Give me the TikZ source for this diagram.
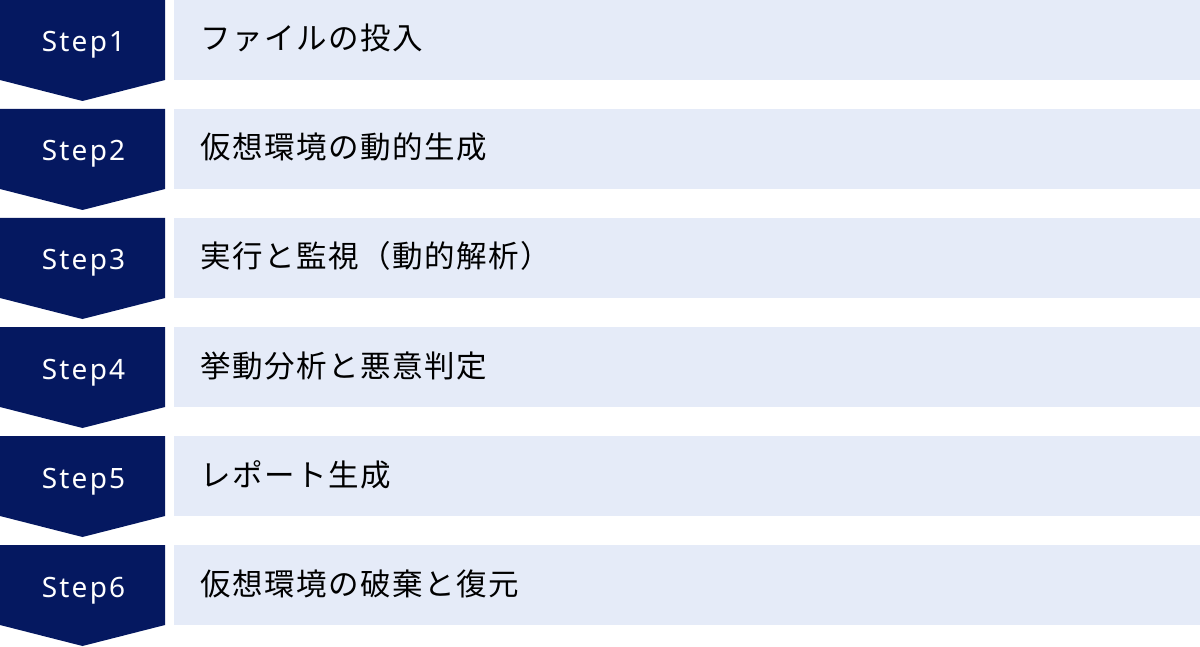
\documentclass[tikz,border=0pt]{standalone}
\usepackage{fontspec}
\setmainfont[LetterSpace=5]{Noto Sans CJK JP}
\newfontfamily\stepfont[LetterSpace=8]{Noto Sans}
\usetikzlibrary{positioning}
\definecolor{navy}{RGB}{5,24,96}
\definecolor{pale}{RGB}{229,235,248}

\begin{document}
\begin{tikzpicture}[x=1pt,y=-1pt]
\tikzstyle{stepmark}=[fill=navy]
\tikzstyle{stepbox}=[fill=pale]
\tikzstyle{steplabel}=[text=white,font=\stepfont\fontsize{28}{32}\selectfont,anchor=base,inner sep=0pt]
\tikzstyle{task}=[text=black,font=\fontsize{30.5}{34}\selectfont,anchor=base west,inner sep=0pt]
\useasboundingbox (0,0) rectangle (1200,647);

% step 1
\fill [stepmark] (0,0) -- (165,0) -- (165,80) -- (82.5,101) -- (0,80) -- cycle;
\fill [stepbox] (174,0) rectangle (1200,80);
\node [steplabel] (s1) at (83.5,52) {Step1};
\node [task] (t1) at (200,50) {ファイルの投入};

% step 2
\fill [stepmark] (0,109) -- (165,109) -- (165,189) -- (82.5,210) -- (0,189) -- cycle;
\fill [stepbox] (174,109) rectangle (1200,189);
\node [steplabel] (s2) at (83.5,161) {Step2};
\node [task] (t2) at (200,159) {仮想環境の動的生成};

% step 3
\fill [stepmark] (0,218) -- (165,218) -- (165,298) -- (82.5,319) -- (0,298) -- cycle;
\fill [stepbox] (174,218) rectangle (1200,298);
\node [steplabel] (s3) at (83.5,270) {Step3};
\node [task] (t3) at (200,268) {実行と監視（動的解析）};

% step 4
\fill [stepmark] (0,327) -- (165,327) -- (165,407) -- (82.5,428) -- (0,407) -- cycle;
\fill [stepbox] (174,327) rectangle (1200,407);
\node [steplabel] (s4) at (83.5,379) {Step4};
\node [task] (t4) at (200,377) {挙動分析と悪意判定};

% step 5
\fill [stepmark] (0,436) -- (165,436) -- (165,516) -- (82.5,537) -- (0,516) -- cycle;
\fill [stepbox] (174,436) rectangle (1200,516);
\node [steplabel] (s5) at (83.5,488) {Step5};
\node [task] (t5) at (200,486) {レポート生成};

% step 6
\fill [stepmark] (0,545) -- (165,545) -- (165,625) -- (82.5,646) -- (0,625) -- cycle;
\fill [stepbox] (174,545) rectangle (1200,625);
\node [steplabel] (s6) at (83.5,597) {Step6};
\node [task] (t6) at (200,595) {仮想環境の破棄と復元};
\end{tikzpicture}
\end{document}
